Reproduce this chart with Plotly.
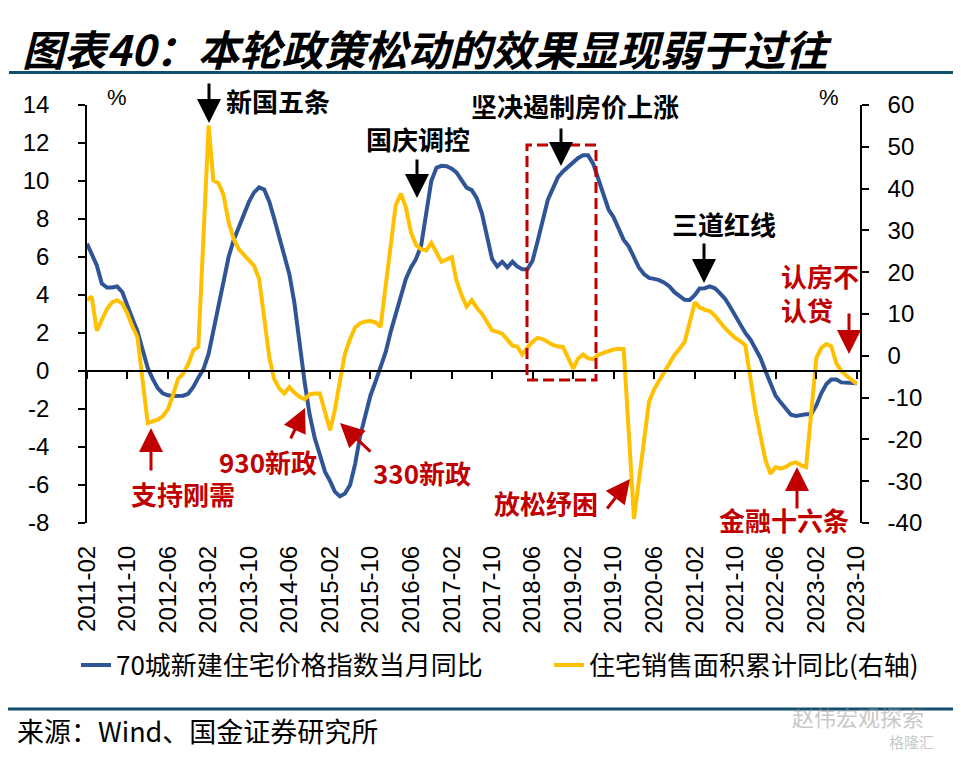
import plotly.graph_objects as go
import pandas as pd

# ---------------- data ----------------
months = pd.date_range("2011-02-01", "2023-10-01", freq="MS").strftime("%Y-%m-%d").tolist()

price_yoy = [
    6.7, 6.1, 5.56, 4.6, 4.39, 4.4, 4.45, 4.15, 3.4, 2.75,
    2.1, 1.2, 0.15, -0.4, -0.9, -1.17, -1.28, -1.31, -1.3, -1.3,
    -1.2, -0.84, -0.35, 0.1, 0.91, 2.1, 3.5, 4.9, 6.0, 6.88,
    7.55, 8.3, 8.9, 9.4, 9.66, 9.55, 8.9, 8.05, 7.1, 6.2,
    5.1, 3.6, 1.4, -0.6, -2.3, -3.55, -4.4, -5.3, -5.8, -6.35,
    -6.6, -6.45, -6.0, -4.9, -3.4, -2.3, -1.3, -0.55, 0.2, 1.0,
    2.1, 3.0, 3.9, 4.85, 5.45, 5.9, 6.6, 8.3, 10.0, 10.7,
    10.8, 10.78, 10.65, 10.45, 10.0, 9.65, 9.52, 9.1, 8.3, 7.0,
    5.9, 5.5, 5.75, 5.45, 5.75, 5.5, 5.35, 5.35, 5.8, 6.8,
    7.9, 9.0, 9.6, 10.2, 10.5, 10.75, 10.95, 11.2, 11.35, 11.35,
    10.9, 10.1, 9.3, 8.5, 8.1, 7.45, 6.9, 6.55, 5.95, 5.45,
    5.1, 4.9, 4.85, 4.78, 4.65, 4.45, 4.15, 3.95, 3.75, 3.74,
    4.0, 4.34, 4.36, 4.45, 4.35, 4.1, 3.8, 3.37, 2.9, 2.4,
    2.0, 1.65, 1.2, 0.7, 0.0, -0.7, -1.3, -1.65, -2.0, -2.3,
    -2.37, -2.3, -2.28, -2.28, -1.8, -1.2, -0.7, -0.45, -0.45, -0.6,
    -0.61, -0.61, -0.65,
]

sales_yoy = [
    13.3, 14.2, 6.0, 8.5, 11.2, 12.8, 13.3, 12.5, 10.2, 7.0,
    4.5, None, -16.1, -15.7, -15.3, -14.5, -12.8, -9.5, -5.5, -4.3,
    -2.0, 1.3, 2.1, None, 55.1, 42.0, 41.3, 38.5, 32.0, 28.0,
    25.5, 24.2, 23.0, 21.5, 18.5, None, -0.5, -5.5, -7.8, -9.0,
    -7.5, -8.8, -9.8, -10.4, -9.2, -9.0, -9.0, None, -17.8, -13.0,
    -6.0, 0.5, 4.0, 6.8, 7.8, 8.2, 8.3, 8.0, 6.9, None,
    27.0, 36.0, 38.8, 35.5, 29.5, 26.5, 25.5, 25.2, 27.0, 24.8,
    22.5, None, 23.6, 18.0, 14.5, 11.8, 13.3, 11.5, 10.1, 8.0,
    6.1, 5.7, 5.3, None, 2.4, 2.2, 0.3, 2.0, 3.3, 4.3,
    4.0, 3.3, 2.6, 2.2, 2.1, None, -3.1, -0.7, 0.3, -0.6,
    -0.8, 0.2, 0.7, 1.2, 1.5, 1.7, 1.6, None, -39.0, -30.0,
    -20.0, -11.0, -8.0, -6.0, -3.8, -2.0, 0.2, 1.7, 3.3, None,
    12.8, 11.6, 11.0, 10.7, 9.6, 8.0, 6.6, 5.4, 4.3, 3.5,
    2.5, None, -13.5, -18.5, -25.0, -28.2, -26.6, -27.0, -26.6, -25.8,
    -25.5, -26.2, -26.6, None, -0.5, 1.8, 2.8, 2.3, -1.8, -3.6,
    -4.8, -5.8, -6.7,
]

tick_months = months[::8]
left_ticks = [-8, -6, -4, -2, 0, 2, 4, 6, 8, 10, 12, 14]
left_labels = ["-8", "-6", "-4", "-2", "0", "2", "4", "6", "8", "10", "12", "14"]
right_ticks = [-40, -30, -20, -10, 0, 10, 20, 30, 40, 50, 60]
right_labels = ["-40", "-30", "-20", "-10", "0", "10", "20", "30", "40", "50", "60"]

series_names = ["70城新建住宅价格指数当月同比", "住宅销售面积累计同比(右轴)"]
title_text = "图表40：本轮政策松动的效果显现弱于过往"
source_text = "来源：Wind、国金证券研究所"

# ---------------- geometry ----------------
W, H = 961, 759
OFF = 8  # the page body adds an 8px margin; compensate
L, R, T, B = 87, 861, 105, 523  # plot area in reference pixels


def PX(x):
    return (x - L) / (R - L)


def PY(y):
    return (B - y) / (B - T)


CJK = "Noto Sans CJK SC"
LAT = "Liberation Sans"
RED = "#C00000"
BLUE = "#2F5597"
YELLOW = "#FFC000"
RULE = "#124E6E"

fig = go.Figure()
fig.add_trace(go.Scatter(
    x=months, y=price_yoy, name=series_names[0], mode="lines",
    line=dict(color=BLUE, width=4), xaxis="x", yaxis="y", legend="legend",
))
fig.add_trace(go.Scatter(
    x=months, y=sales_yoy, name=series_names[1], mode="lines",
    line=dict(color=YELLOW, width=4), connectgaps=True, xaxis="x2", yaxis="y2",
    legend="legend2",
))

x_range = [months[0], "2023-10-27"]
tickfont = dict(family=LAT, size=24, color="black")

fig.update_layout(
    width=W, height=H,
    margin=dict(l=L - OFF, r=W - R + OFF, t=T - OFF, b=H - B + OFF, pad=0),
    paper_bgcolor="white", plot_bgcolor="white",
    font=dict(family=LAT, size=22, color="black"),
    xaxis=dict(
        type="date", range=x_range, anchor="free", position=8 / 22,
        showline=True, linecolor="black", linewidth=1.5,
        ticks="outside", ticklen=7, tickwidth=1.5, tickcolor="black",
        tickvals=tick_months, showticklabels=False,
        showgrid=False, zeroline=False,
    ),
    xaxis2=dict(
        type="date", range=x_range, overlaying="x", anchor="free", position=0,
        side="bottom", showline=False, ticks="",
        tickvals=tick_months, tickformat="%Y-%m", tickangle=-90,
        tickfont=tickfont, ticklabelstandoff=17, showgrid=False, zeroline=False,
    ),
    yaxis=dict(
        range=[-8, 14], tickvals=left_ticks, ticktext=left_labels,
        showline=True, linecolor="black", linewidth=1.5,
        ticks="outside", ticklen=7, tickwidth=1.5, tickcolor="black",
        tickfont=tickfont, ticklabelstandoff=24, showgrid=False, zeroline=False,
    ),
    yaxis2=dict(
        range=[-40, 60], tickvals=right_ticks, ticktext=right_labels,
        overlaying="y", side="right", anchor="free", position=1,
        showline=True, linecolor="black", linewidth=1.5,
        ticks="outside", ticklen=7, tickwidth=1.5, tickcolor="black",
        tickfont=tickfont, ticklabelstandoff=14, showgrid=False, zeroline=False,
    ),
    legend=dict(
        orientation="h", x=PX(76), y=PY(665), xanchor="left", yanchor="middle",
        font=dict(family=CJK, size=26, color="black"),
        bgcolor="rgba(0,0,0,0)", borderwidth=0,
    ),
    legend2=dict(
        orientation="h", x=PX(549), y=PY(665), xanchor="left", yanchor="middle",
        font=dict(family=CJK, size=26, color="black"),
        bgcolor="rgba(0,0,0,0)", borderwidth=0,
    ),
    showlegend=True,
)

annotations = []


def text(x, y, s, size=26, color="black", weight="bold", anchor="left", family=CJK, style="normal"):
    annotations.append(dict(
        x=PX(x), y=PY(y), xref="paper", yref="paper", text=s, showarrow=False,
        xanchor=anchor, yanchor="middle",
        font=dict(family=family, size=size, color=color, weight=weight, style=style),
    ))


def arrow(tx, ty, sx, sy, color="black"):
    annotations.append(dict(
        x=PX(tx), y=PY(ty), xref="paper", yref="paper", text="",
        showarrow=True, ax=sx - tx, ay=sy - ty, axref="pixel", ayref="pixel",
        arrowhead=2, arrowsize=1.6, arrowwidth=3, arrowcolor=color, standoff=0,
    ))


# title
text(20, 47, title_text, size=42, weight="bold", style="italic")
# percent signs
text(117, 98, "%", size=22, weight="normal", anchor="center", family=LAT)
text(829, 98, "%", size=22, weight="normal", anchor="center", family=LAT)

# black annotations
text(224, 101, "新国五条")
arrow(209, 123, 209, 82)
text(364, 138, "国庆调控")
arrow(417, 198, 417, 158)
text(469, 106, "坚决遏制房价上涨")
arrow(561, 166, 561, 127)
text(670, 223, "三道红线")
arrow(704, 283, 704, 242)

# red annotations
text(129, 493, "支持刚需", color=RED)
arrow(151, 428, 151, 472, RED)
text(217, 461, "930新政", color=RED)
arrow(305, 408, 290, 440, RED)
text(371, 472, "330新政", color=RED)
arrow(340, 423, 372, 453, RED)
text(492, 502, "放松纾困", color=RED)
arrow(630, 479, 606, 510, RED)
text(717, 519, "金融十六条", color=RED)
arrow(797, 467, 797, 510, RED)
text(779, 275, "认房不", color=RED)
text(779, 309, "认贷", color=RED)
arrow(849, 354, 849, 312, RED)

# source and watermark
text(15, 730, source_text, size=27, weight="normal")
text(858, 716, "赵伟宏观探索", size=22, color="rgba(150,150,150,0.55)", weight="normal", anchor="center")
text(912, 741, "格隆汇", size=15, color="rgba(150,150,150,0.55)", weight="normal", anchor="center")

fig.update_layout(annotations=annotations)

shapes = [
    dict(type="rect", xref="paper", yref="paper",
         x0=PX(527), x1=PX(596), y0=PY(380), y1=PY(145),
         line=dict(color=RED, width=3, dash="11px,5px")),
    dict(type="line", xref="paper", yref="paper",
         x0=PX(9), x1=PX(961), y0=PY(72.5), y1=PY(72.5),
         line=dict(color=RULE, width=3)),
    dict(type="line", xref="paper", yref="paper",
         x0=PX(5), x1=PX(961), y0=PY(709), y1=PY(709),
         line=dict(color=RULE, width=3)),
]
fig.update_layout(shapes=shapes)

fig.write_html("out.html")
